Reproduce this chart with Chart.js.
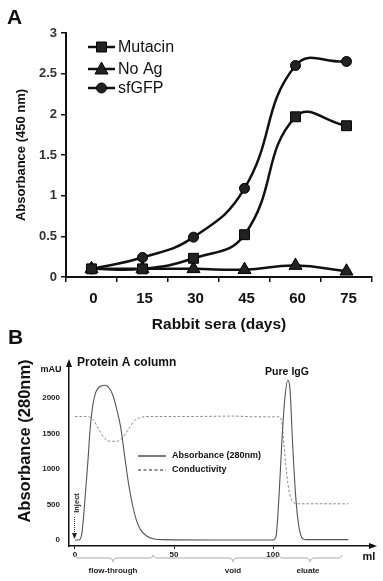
<!DOCTYPE html>
<html><head><meta charset="utf-8">
<script src="https://cdn.jsdelivr.net/npm/chart.js@4.4.1/dist/chart.umd.min.js"></script>
<style>
html,body{margin:0;padding:0;background:#fff;width:383px;height:581px;overflow:hidden}
canvas{position:absolute;left:0;top:0}
</style></head><body>
<canvas id="a" width="383" height="581" style="width:383px;height:581px"></canvas>
<canvas id="b" width="383" height="581" style="width:383px;height:581px"></canvas>
<script>
// ---------- Panel A data ----------
const days = ['0', '15', '30', '45', '60', '75'];
const mutacin = [0.10, 0.10, 0.23, 0.52, 1.97, 1.86];
const noAg = [0.10, 0.10, 0.10, 0.09, 0.14, 0.07];
const sfGFP = [0.10, 0.24, 0.49, 1.09, 2.60, 2.65];
const seriesNamesA = ['Mutacin', 'No Ag', 'sfGFP'];

// ---------- Panel B data (ml, mAU) ----------
const absX = [0, 2, 3.5, 5, 6.5, 7.6, 9, 10.5, 13, 15, 17, 19, 21, 23, 25, 27, 29, 31, 33, 36, 40, 45, 70, 100, 101.5, 103, 104.5, 106, 107.5, 108.5, 110, 111.5, 113, 115, 117, 138];
const absY = [0, 0, 100, 560, 1100, 1550, 1900, 2080, 2170, 2180, 2150, 2050, 1850, 1600, 1200, 800, 500, 280, 150, 60, 15, 5, 0, 0, 50, 600, 1400, 2000, 2250, 2150, 1300, 600, 200, 20, 5, 5];
const condX = [0, 6, 9, 12, 15, 18, 21, 24, 27, 30, 33, 38, 60, 80, 92, 103, 104.5, 105.5, 106.5, 107.5, 108.5, 110, 113, 138];
const condY = [1740, 1740, 1700, 1560, 1430, 1390, 1390, 1440, 1560, 1680, 1725, 1740, 1740, 1745, 1735, 1735, 1650, 1350, 1050, 800, 640, 540, 510, 510];
const xTicksB = [0, 50, 100];
const yTicksB = [0, 500, 1000, 1500, 2000];
const seriesNamesB = ['Absorbance (280nm)', 'Conductivity'];

const FONT = '"Liberation Sans", Arial, sans-serif';
Chart.defaults.font.family = FONT;
Chart.defaults.color = '#222';

// ---------- Panel A ----------
const markerA = ['rect', 'triangle', 'circle'];
const radA = [7, 7.5, 5];
function drawMarker(ctx, style, x, y) {
  ctx.beginPath();
  if (style === 'rect') { ctx.rect(x - 5, y - 5, 10, 10); }
  else if (style === 'triangle') { ctx.moveTo(x, y - 7); ctx.lineTo(x + 6.5, y + 5); ctx.lineTo(x - 6.5, y + 5); ctx.closePath(); }
  else { ctx.arc(x, y, 5, 0, Math.PI * 2); }
  ctx.fill(); ctx.stroke();
}
const annotA = {
  id: 'annotA',
  afterDraw(chart) {
    const ctx = chart.ctx;
    ctx.save();
    ctx.fillStyle = '#111';
    ctx.font = 'bold 21px ' + FONT;
    ctx.textBaseline = 'top';
    ctx.fillText('A', 7, 8);
    const ys = [47, 69, 88];
    ctx.font = '16px ' + FONT;
    ctx.textBaseline = 'middle';
    seriesNamesA.forEach((n, i) => {
      ctx.strokeStyle = '#111'; ctx.lineWidth = 2.5;
      ctx.beginPath(); ctx.moveTo(88, ys[i]); ctx.lineTo(115, ys[i]); ctx.stroke();
      ctx.fillStyle = '#222'; ctx.strokeStyle = '#000'; ctx.lineWidth = 1;
      drawMarker(ctx, markerA[i], 101.5, ys[i]);
      ctx.fillStyle = '#111';
      ctx.fillText(n, 118, ys[i] + 1);
    });
    ctx.restore();
  }
};
const dsA = [mutacin, noAg, sfGFP].map((d, i) => ({
  label: seriesNamesA[i], data: d,
  borderColor: '#111', borderWidth: 2.5, tension: 0.45,
  pointStyle: markerA[i], pointRadius: radA[i], pointBackgroundColor: '#222',
  pointBorderColor: '#000', pointBorderWidth: 1, fill: false
}));
new Chart(document.getElementById('a'), {
  type: 'line',
  data: { labels: days, datasets: dsA },
  options: {
    responsive: false, animation: false,
    layout: { padding: { left: 0, top: 33, right: 11, bottom: 246 } },
    plugins: { legend: { display: false }, tooltip: { enabled: false } },
    scales: {
      x: {
        offset: true,
        grid: { display: true, offset: true, drawOnChartArea: false, drawTicks: true, tickLength: 5, color: '#111', lineWidth: 1.5 },
        border: { display: true, color: '#111', width: 2 },
        ticks: { font: { size: 15, weight: 'bold' }, color: '#111', padding: 8, maxRotation: 0, labelOffset: 2 },
        title: { display: true, text: 'Rabbit sera (days)', font: { size: 15.5, weight: 'bold' }, color: '#111', padding: { top: 0, bottom: 1 } },
        afterFit(s) { s.height = 58; }
      },
      y: {
        min: 0, max: 3,
        grid: { display: true, drawOnChartArea: false, drawTicks: true, tickLength: 5, color: '#111', lineWidth: 1.5 },
        border: { display: true, color: '#111', width: 2 },
        ticks: { stepSize: 0.5, font: { size: 13, weight: 'bold' }, color: '#333', padding: 4, callback: v => String(Math.round(v * 10) / 10) },
        title: { display: true, text: 'Absorbance (450 nm)', font: { size: 13, weight: 'bold' }, color: '#111', padding: { top: 14, bottom: 0 } },
        afterFit(s) { s.width = 66; }
      }
    }
  },
  plugins: [annotA]
});

// ---------- Panel B ----------
function brace(ctx, x1, x2, mid, y0) {
  ctx.beginPath();
  ctx.moveTo(x1, y0);
  ctx.quadraticCurveTo(x1, y0 + 3, x1 + 5, y0 + 3);
  ctx.lineTo(mid - 5, y0 + 3);
  ctx.quadraticCurveTo(mid, y0 + 3, mid, y0 + 7);
  ctx.quadraticCurveTo(mid, y0 + 3, mid + 5, y0 + 3);
  ctx.lineTo(x2 - 5, y0 + 3);
  ctx.quadraticCurveTo(x2, y0 + 3, x2, y0);
  ctx.stroke();
}
const annotB = {
  id: 'annotB',
  afterDraw(chart) {
    const ctx = chart.ctx;
    const ca = chart.chartArea;
    ctx.save();
    // arrows
    ctx.fillStyle = '#111';
    ctx.beginPath(); ctx.moveTo(ca.left, ca.top - 4); ctx.lineTo(ca.left + 3, ca.top + 4); ctx.lineTo(ca.left - 3, ca.top + 4); ctx.closePath(); ctx.fill();
    ctx.beginPath(); ctx.moveTo(ca.right + 4, ca.bottom); ctx.lineTo(ca.right - 4, ca.bottom - 3); ctx.lineTo(ca.right - 4, ca.bottom + 3); ctx.closePath(); ctx.fill();
    // letter B
    ctx.font = 'bold 21px ' + FONT; ctx.textBaseline = 'top'; ctx.textAlign = 'left';
    ctx.fillText('B', 8, 328);
    ctx.textBaseline = 'middle';
    ctx.font = 'bold 12px ' + FONT;
    ctx.fillText('Protein A column', 77, 363);
    ctx.font = 'bold 9px ' + FONT;
    ctx.textAlign = 'center';
    ctx.fillText('mAU', 51, 370);
    ctx.font = 'bold 10.5px ' + FONT;
    ctx.fillText('Pure IgG', 287, 372);
    ctx.font = 'bold 11px ' + FONT;
    ctx.fillText('ml', 369, 557);
    // y title
    ctx.save();
    ctx.translate(25, 441); ctx.rotate(-Math.PI / 2);
    ctx.font = 'bold 16.5px ' + FONT; ctx.fillStyle = '#111';
    ctx.fillText('Absorbance (280nm)', 0, 0);
    ctx.restore();
    // inject
    ctx.save();
    ctx.translate(77, 503); ctx.rotate(-Math.PI / 2);
    ctx.font = 'bold 7.5px ' + FONT; ctx.fillStyle = '#222';
    ctx.fillText('Inject', 0, 0);
    ctx.restore();
    ctx.strokeStyle = '#333'; ctx.lineWidth = 1; ctx.setLineDash([1, 1]);
    ctx.beginPath(); ctx.moveTo(74.5, 517); ctx.lineTo(74.5, 534); ctx.stroke();
    ctx.setLineDash([]);
    ctx.fillStyle = '#222';
    ctx.beginPath(); ctx.moveTo(74.5, 539); ctx.lineTo(72, 533); ctx.lineTo(77, 533); ctx.closePath(); ctx.fill();
    // braces
    ctx.strokeStyle = '#aaa'; ctx.lineWidth = 1;
    brace(ctx, 75, 153, 113, 555);
    brace(ctx, 153, 279, 233, 555);
    brace(ctx, 279, 342, 310, 555);
    ctx.fillStyle = '#222'; ctx.font = 'bold 8px ' + FONT;
    ctx.fillText('flow-through', 113, 571);
    ctx.fillText('void', 233, 571);
    ctx.fillText('eluate', 308, 571);
    // legend
    ctx.textAlign = 'left';
    ctx.strokeStyle = '#222'; ctx.lineWidth = 1.2;
    ctx.beginPath(); ctx.moveTo(138, 456); ctx.lineTo(166, 456); ctx.stroke();
    ctx.setLineDash([3, 2.5]);
    ctx.beginPath(); ctx.moveTo(138, 470); ctx.lineTo(166, 470); ctx.stroke();
    ctx.setLineDash([]);
    ctx.font = 'bold 9px ' + FONT; ctx.fillStyle = '#111';
    ctx.fillText(seriesNamesB[0], 172, 456);
    ctx.fillText(seriesNamesB[1], 172, 470);
    ctx.restore();
  }
};
new Chart(document.getElementById('b'), {
  type: 'line',
  data: {
    datasets: [
      { label: seriesNamesB[0], data: absX.map((x, i) => ({ x, y: absY[i] })), borderColor: '#555', borderWidth: 1.1, pointRadius: 0, cubicInterpolationMode: 'monotone', fill: false },
      { label: seriesNamesB[1], data: condX.map((x, i) => ({ x, y: condY[i] })), borderColor: '#888', borderWidth: 1, borderDash: [2.5, 2], pointRadius: 0, cubicInterpolationMode: 'monotone', fill: false }
    ]
  },
  options: {
    responsive: false, animation: false,
    layout: { padding: { left: 0, top: 363, right: 10, bottom: 0 } },
    plugins: { legend: { display: false }, tooltip: { enabled: false } },
    scales: {
      x: {
        type: 'linear', min: -3.03, max: 150.5,
        afterBuildTicks(s) { s.ticks = xTicksB.map(v => ({ value: v })); },
        grid: { display: true, drawOnChartArea: false, drawTicks: true, tickLength: 3, color: '#111', lineWidth: 1 },
        border: { display: true, color: '#111', width: 1.5 },
        ticks: { font: { size: 8, weight: 'bold' }, color: '#222', padding: 1, maxRotation: 0, callback: v => String(v) },
        afterFit(s) { s.height = 35; }
      },
      y: {
        min: -84.5, max: 2493,
        afterBuildTicks(s) { s.ticks = yTicksB.map(v => ({ value: v })); },
        grid: { display: true, drawOnChartArea: false, drawTicks: false },
        border: { display: true, color: '#111', width: 1.5 },
        ticks: { font: { size: 8, weight: 'bold' }, color: '#222', padding: 9, callback: v => String(v) },
        afterFit(s) { s.width = 69; }
      }
    }
  },
  plugins: [annotB]
});
</script>
</body></html>
